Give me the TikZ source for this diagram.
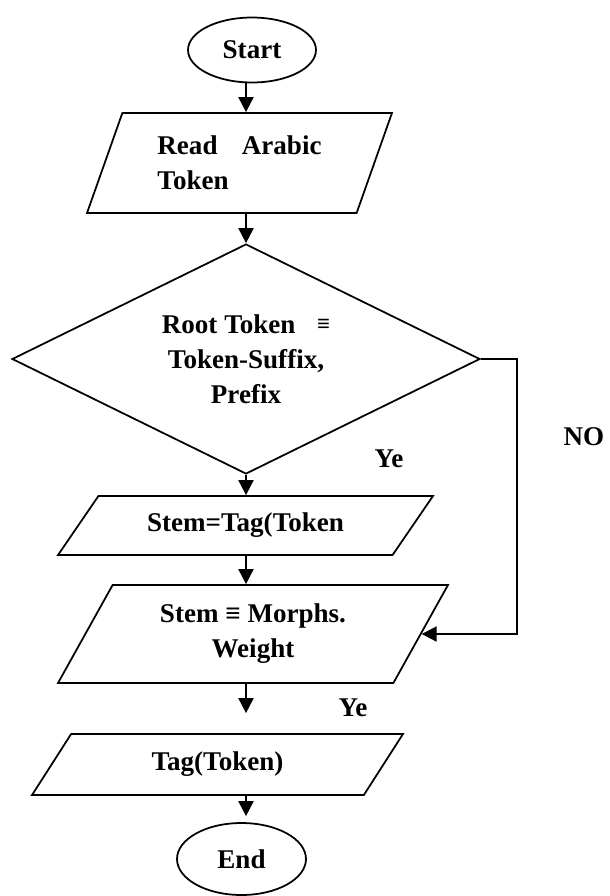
\documentclass[tikz,border=0pt]{standalone}
\usepackage{fontspec}
\setmainfont{Liberation Serif}
\usetikzlibrary{shapes.geometric,arrows.meta}

\tikzset{
    txt/.style={font=\bfseries\fontsize{15.4}{20}\selectfont},
    term/.style={txt, draw, ellipse, line width=1pt, inner sep=0pt},
    io/.style={txt, draw, trapezium, trapezium stretches body, line width=1pt, inner sep=2pt, align=center},
    test/.style={txt, draw, diamond, aspect=2.03, line width=1pt, inner sep=0pt, align=center},
    flow/.style={line width=1.1pt, -{Triangle[length=0.3cm, width=0.3cm]}}
}

\begin{document}
\begin{tikzpicture}[x=0.02cm, y=-0.02cm]
    \useasboundingbox (0,0) rectangle (609,896);

    % Start and input
    \node[term, minimum width=2.56cm, minimum height=1.3cm] (start) at (252,50) {Start};
    \node[io, trapezium left angle=60, trapezium right angle=120,
          minimum width=6.1cm, minimum height=2cm, align=left] (read) at (239.5,163)
          {Read\hspace{0.9em}Arabic\\Token};

    % Root test
    \node[test, minimum width=9.36cm, minimum height=4.6cm] (cond) at (246,359)
          {Root Token\hspace{0.8em}\raisebox{0.1ex}{\fontsize{13}{13}\selectfont ≡}\\Token-Suffix,\\Prefix};

    % Stem and weight
    \node[io, trapezium left angle=38.2, trapezium right angle=141.8,
          minimum width=7.5cm, minimum height=1.18cm] (stem) at (245.5,525.5) {Stem=Tag(Token};
    \node[io, trapezium left angle=50.8, trapezium right angle=129.2,
          minimum width=7.8cm, minimum height=1.96cm] (morph) at (253,634)
          {Stem ≡ Morphs.\\Weight};

    % Output and end
    \node[io, trapezium left angle=39.1, trapezium right angle=140.9,
          minimum width=7.42cm, minimum height=1.22cm] (tag) at (217.5,764.5) {Tag(Token)};
    \node[term, minimum width=2.58cm, minimum height=1.44cm] (finish) at (241.5,859) {End};

    % Labels
    \node[txt] (ye1) at (389,459) {Ye};
    \node[txt] (no) at (584,437) {NO};
    \node[txt] (ye2) at (353,708) {Ye};

    % Arrows
    \draw[flow] (start.south -| cond.north) -- (read.north -| cond.north);
    \draw[flow] (read.south -| cond.north) -- (cond.north);
    \draw[flow] (cond.south) -- (stem.north -| cond.south);
    \draw[flow] (stem.south -| cond.south) -- (morph.north -| cond.south);
    \draw[flow, shorten >=0.4cm] (morph.south -| cond.south) -- (tag.north -| cond.south);
    \draw[flow, shorten >=0.12cm] (tag.south -| cond.south) -- (finish.north -| cond.south);
    \draw[flow] (cond.east) -- ++(36,0) |- (morph.east);
\end{tikzpicture}
\end{document}
